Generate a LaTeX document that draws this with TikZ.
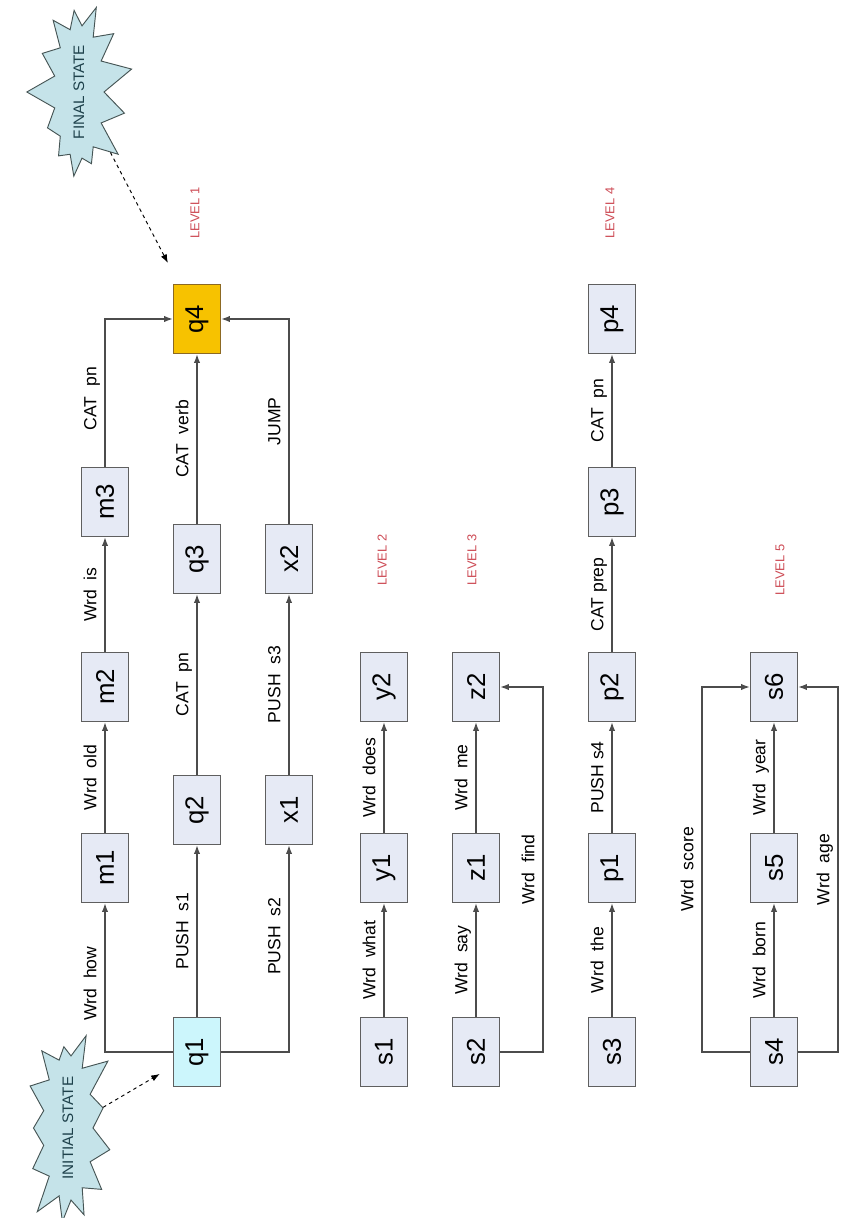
\documentclass[tikz,border=0pt]{standalone}
\usepackage{fontspec}
\setmainfont{Liberation Sans}
\usetikzlibrary{shapes.symbols}
\usetikzlibrary{arrows.meta}

\definecolor{boxfill}{RGB}{230,234,245}
\definecolor{boxline}{RGB}{95,95,95}
\definecolor{startfill}{RGB}{204,246,252}
\definecolor{endfill}{RGB}{247,194,0}
\definecolor{endline}{RGB}{140,105,35}
\definecolor{starfill}{RGB}{197,227,233}
\definecolor{starline}{RGB}{70,85,85}
\definecolor{startext}{RGB}{30,65,75}
\definecolor{lvlred}{RGB}{205,75,85}

\tikzset{
	state/.style={draw=boxline, fill=boxfill, line width=1.3pt, rotate=90,
		minimum width=20.7mm, minimum height=14.1mm, inner sep=0pt,
		font=\fontsize{22}{24}\selectfont},
	lbl/.style={rotate=90, anchor=south, text depth=0pt, inner xsep=0pt,
		inner ysep=2.4mm, font=\fontsize{15}{17}\selectfont},
	lvl/.style={rotate=90, text=lvlred, font=\fontsize{11}{13}\selectfont},
	burst/.style={starburst, starburst points=13, starburst point height=9mm,
		random starburst=7, draw=starline, fill=starfill, line width=0.8pt,
		rotate=90, text=startext, minimum width=51mm, minimum height=33mm,
		inner sep=0pt, font=\fontsize{13}{15}\selectfont},
	trans/.style={draw=black!70, line width=1pt, -{Latex[length=2.6mm, width=1.9mm]}}
}

\begin{document}
\begin{tikzpicture}[x=0.3mm, y=-0.3mm]
	\useasboundingbox (0,0) rectangle (841,1218);

	% os estados
		\node[state, fill=startfill] (q1) at (197,1052) {q1};
		\node[state] (q2) at (197,810) {q2};
		\node[state] (q3) at (197,559) {q3};
		\node[state, fill=endfill, draw=endline] (q4) at (197,319) {q4};
		\node[state] (m1) at (105,868) {m1};
		\node[state] (m2) at (105,687) {m2};
		\node[state] (m3) at (105,502) {m3};
		\node[state] (x1) at (289,810) {x1};
		\node[state] (x2) at (289,559) {x2};
		\node[state] (s1) at (384,1052) {s1};
		\node[state] (y1) at (384,868) {y1};
		\node[state] (y2) at (384,687) {y2};
		\node[state] (s2) at (476,1052) {s2};
		\node[state] (z1) at (476,868) {z1};
		\node[state] (z2) at (476,687) {z2};
		\node[state] (s3) at (612,1052) {s3};
		\node[state] (p1) at (612,868) {p1};
		\node[state] (p2) at (612,687) {p2};
		\node[state] (p3) at (612,502) {p3};
		\node[state] (p4) at (612,319) {p4};
		\node[state] (s4) at (774,1052) {s4};
		\node[state] (s5) at (774,868) {s5};
		\node[state] (s6) at (774,687) {s6};

	% os niveis
		\node[lvl] (lv1) at (195,213) {LEVEL 1};
		\node[lvl] (lv2) at (382,560) {LEVEL 2};
		\node[lvl] (lv3) at (472,560) {LEVEL 3};
		\node[lvl] (lv4) at (610,213) {LEVEL 4};
		\node[lvl] (lv5) at (780,570) {LEVEL 5};

	% estado inicial e final
		\node[burst] (fs) at (79,92) {FINAL STATE};
		\node[burst, random starburst=3] (is) at (68,1128) {INITIAL STATE};
		\draw[-{Latex[length=2.6mm, width=1.9mm]}, dashed, line width=0.8pt, shorten >=7mm] (fs) -- (q4);
		\draw[-{Latex[length=2.6mm, width=1.9mm]}, dashed, line width=0.8pt, shorten >=4.5mm] (is) -- (q1);

	% nivel 1
		\draw[trans] (q1) -| node[lbl, pos=0.73] {Wrd\ \ how} (m1);
		\draw[trans] (m1) -- node[lbl] {Wrd\ \ old} (m2);
		\draw[trans] (m2) -- node[lbl] {Wrd\ \ is} (m3);
		\draw[trans] (m3) |- node[lbl, pos=0.23] {CAT\ \ pn} (q4);
		\draw[trans] (q1) -- node[lbl] {PUSH\ \ s1} (q2);
		\draw[trans] (q2) -- node[lbl] {CAT\ \ pn} (q3);
		\draw[trans] (q3) -- node[lbl] {CAT\ \ verb} (q4);
		\draw[trans] (q1) -| node[lbl, pos=0.78] {PUSH\ \ s2} (x1);
		\draw[trans] (x1) -- node[lbl] {PUSH\ \ s3} (x2);
		\draw[trans] (x2) |- node[lbl, pos=0.25] {JUMP} (q4);

	% nivel 2
		\draw[trans] (s1) -- node[lbl] {Wrd\ \ what} (y1);
		\draw[trans] (y1) -- node[lbl] {Wrd\ \ does} (y2);

	% nivel 3
		\coordinate (zloop) at (543,1052);
		\draw[trans] (s2) -- node[lbl] {Wrd\ \ say} (z1);
		\draw[trans] (z1) -- node[lbl] {Wrd\ \ me} (z2);
		\draw[trans] (s2) -- (zloop) |- node[lbl, pos=0.25] {Wrd\ \ find} (z2);

	% nivel 4
		\draw[trans] (s3) -- node[lbl] {Wrd\ \ the} (p1);
		\draw[trans] (p1) -- node[lbl] {PUSH s4} (p2);
		\draw[trans] (p2) -- node[lbl] {CAT prep} (p3);
		\draw[trans] (p3) -- node[lbl] {CAT\ \ pn} (p4);

	% nivel 5
		\coordinate (sleft) at (702,1052);
		\coordinate (sright) at (838,1052);
		\draw[trans] (s4) -- node[lbl] {Wrd\ \ born} (s5);
		\draw[trans] (s5) -- node[lbl] {Wrd\ \ year} (s6);
		\draw[trans] (s4) -- (sleft) |- node[lbl, pos=0.25] {Wrd\ \ score} (s6);
		\draw[trans] (s4) -- (sright) |- node[lbl, pos=0.25] {Wrd\ \ age} (s6);
\end{tikzpicture}
\end{document}
